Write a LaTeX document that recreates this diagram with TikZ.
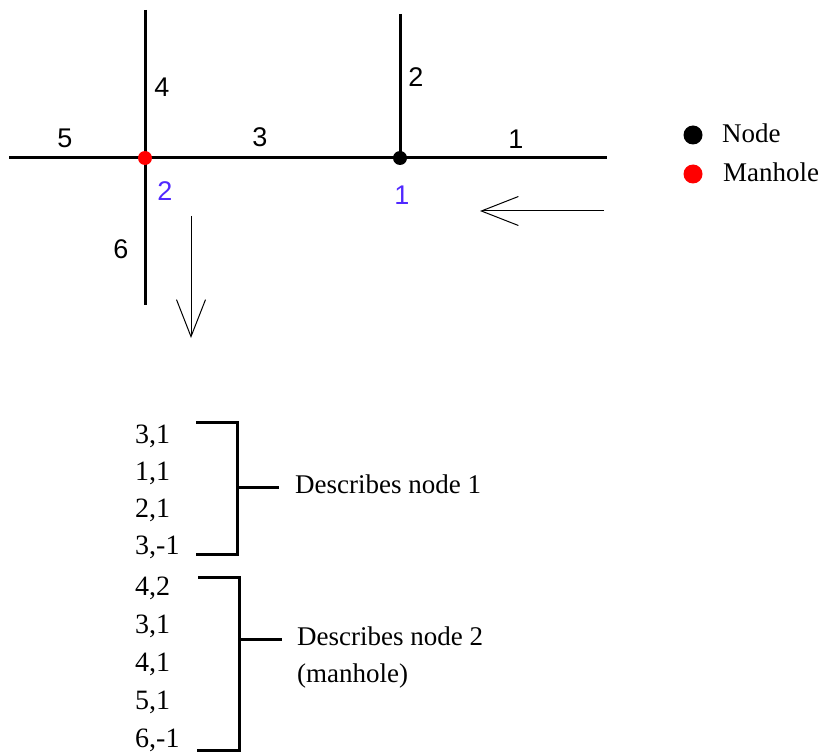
\documentclass[tikz,border=0pt]{standalone}
\usepackage{fontspec}
\setmainfont{Liberation Serif}
\newfontfamily\labelfont{Liberation Sans}
\usepackage{xcolor}
\definecolor{numblue}{RGB}{80,40,255}
\usepackage{tikz}
\usetikzlibrary{arrows.meta,positioning}

\begin{document}
\begin{tikzpicture}[x=1pt, y=-1pt,
  pipe/.style={line width=3pt},
  flow/.style={line width=1pt, -{Straight Barb[length=37pt, width=29pt]}},
  brace/.style={line width=3pt},
  junction/.style={circle, fill=black, inner sep=0pt, minimum size=14pt},
  manhole/.style={junction, fill=red},
  pipenum/.style={font=\labelfont\fontsize{27}{32}\selectfont, inner sep=0pt},
  nodenum/.style={pipenum, text=numblue},
  entry/.style={font=\fontsize{28}{32}\selectfont, inner sep=0pt, anchor=base west},
  remark/.style={font=\fontsize{27}{32}\selectfont, inner sep=0pt, anchor=base west}]

\useasboundingbox (0,0) rectangle (833,754);

% pipe network
\coordinate (j2) at (145,158);
\coordinate (j1) at (400,158);
\coordinate (e5) at (9,158);
\coordinate (e4) at (145,10);
\coordinate (e6) at (145,305);
\coordinate (e2) at (400,14);
\coordinate (e1) at (607,158);

\draw[pipe] (e5) -- (j2) -- (j1) -- (e1);
\draw[pipe] (e4) -- (e6);
\draw[pipe] (e2) -- (j1);

\node[manhole] (m2) at (j2) {};
\node[junction] (n1) at (j1) {};

\node[pipenum] (p5) at (65,138) {5};
\node[pipenum] (p4) at (162,87) {4};
\node[pipenum] (p3) at (260,137) {3};
\node[pipenum] (p2) at (416,77) {2};
\node[pipenum] (p1) at (516,139) {1};
\node[pipenum] (p6) at (121,249) {6};
\node[nodenum] (k2) at (165,191) {2};
\node[nodenum] (k1) at (402,195) {1};

% flow direction
\coordinate (f1s) at (604,211);
\coordinate (f1e) at (480,211);
\coordinate (f2s) at (191,216);
\coordinate (f2e) at (191,338);
\draw[flow] (f1s) -- (f1e);
\draw[flow] (f2s) -- (f2e);

% legend
\node[junction, minimum size=19pt] (keynode) at (693,135) {};
\node[manhole, minimum size=19pt] (keyhole) at (693,174) {};
\node[remark] (keynodetxt) at (722,143) {Node};
\node[remark] (keyholetxt) at (723,182) {Manhole};

% node table
\foreach \v [count=\i from 0] in {{3,1},{1,1},{2,1},{3,-1}}
  \node[entry] (a\i) at (135,443+37.3*\i) {\v};
\foreach \v [count=\i from 0] in {{4,2},{3,1},{4,1},{5,1},{6,-1}}
  \node[entry] (b\i) at (135,595+38*\i) {\v};

\draw[brace] (196,422) -- (237,422) -- (237,554) -- (196,554);
\draw[brace] (198,577) -- (239,577) -- (239,750) -- (197,750);

\node[remark] (d1) at (295,493) {Describes node 1};
\node[remark] (d2) at (297,645) {Describes node 2};
\node[remark] (d2b) at (297,682) {(manhole)};

\coordinate (t1) at (237,487);
\coordinate (t2) at (239,639);
\draw[brace] (t1) -- (279,487);
\draw[brace] (t2) -- (282,639);

\end{tikzpicture}
\end{document}
